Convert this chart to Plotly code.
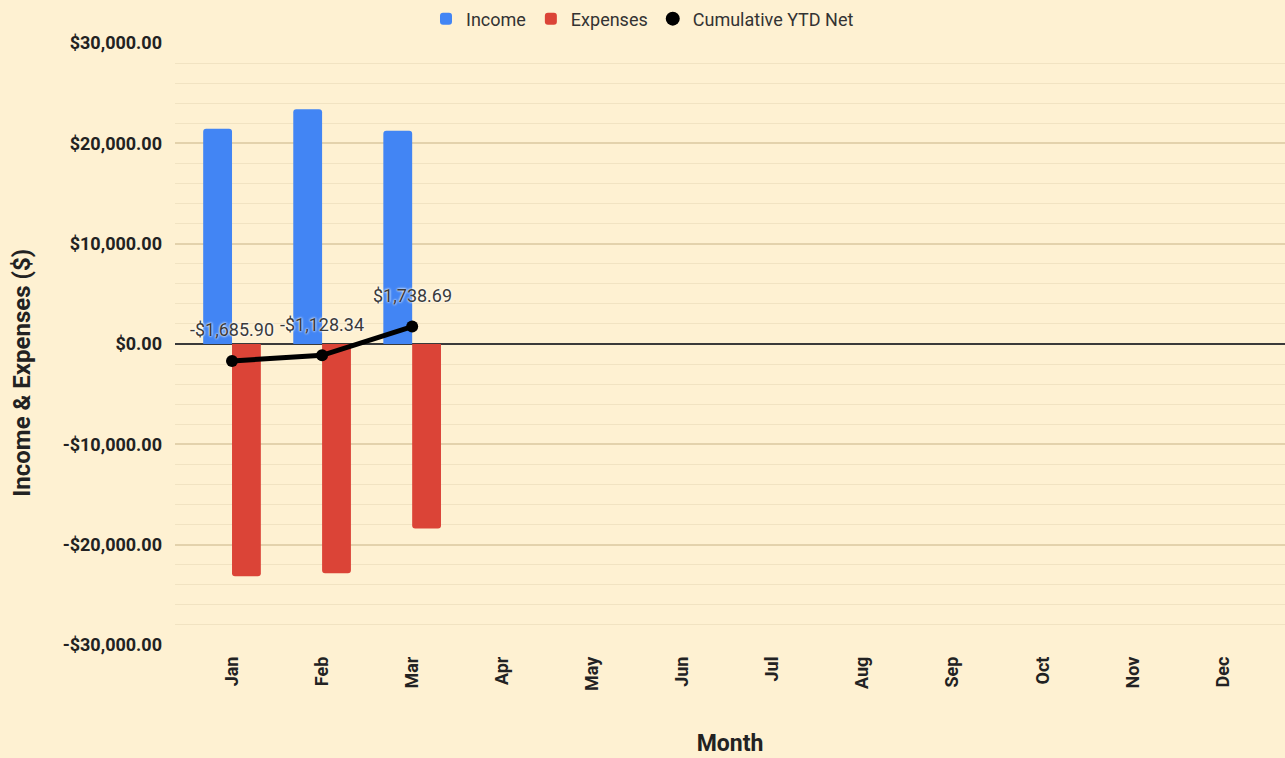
import plotly.graph_objects as go

months = ["Jan", "Feb", "Mar", "Apr", "May", "Jun", "Jul", "Aug", "Sep", "Oct", "Nov", "Dec"]
income = [21450.00, 23400.00, 21250.00]
expenses = [-23135.90, -22842.44, -18382.97]
cumulative_net = [-1685.90, -1128.34, 1738.69]

y_tickvals = [30000, 20000, 10000, 0, -10000, -20000, -30000]
y_ticktext = ["$30,000.00", "$20,000.00", "$10,000.00", "$0.00",
              "-$10,000.00", "-$20,000.00", "-$30,000.00"]


def fmt(v):
    return ("-" if v < 0 else "") + "${:,.2f}".format(abs(v))


BG = "#FEF1D2"
FONT = "Roboto"

fig = go.Figure()
fig.add_trace(go.Bar(x=months[:len(income)], y=income, name="Income",
                     marker=dict(color="#4285F4", cornerradius=3, line=dict(width=0))))
fig.add_trace(go.Bar(x=months[:len(expenses)], y=expenses, name="Expenses",
                     marker=dict(color="#DB4437", cornerradius=3, line=dict(width=0))))
fig.add_trace(go.Scatter(x=months[:len(cumulative_net)], y=cumulative_net, mode="lines+markers",
                         line=dict(color="#000000", width=5),
                         marker=dict(color="#000000", size=12),
                         showlegend=False, name="Cumulative YTD Net"))
fig.add_trace(go.Scatter(x=[None], y=[None], mode="markers", name="Cumulative YTD Net",
                         marker=dict(color="#000000", size=14)))

for m, v in zip(months, cumulative_net):
    fig.add_annotation(x=m, y=v, text=fmt(v), showarrow=False, yshift=31,
                       font=dict(family=FONT, size=18, color="#3a3a3a",
                                 shadow="0px 0px 3px #ffffff, 0px 0px 2px #ffffff"))

fig.add_annotation(xref="paper", yref="paper", x=-0.1375, y=0.453, xanchor="center", yanchor="middle",
                   text="Income & Expenses ($)", textangle=-90, showarrow=False,
                   font=dict(family=FONT, size=24, color="#222222", weight="bold"))

fig.update_layout(
    width=1285, height=758,
    paper_bgcolor=BG, plot_bgcolor=BG,
    margin=dict(l=175, r=0, t=43, b=113, autoexpand=False),
    barmode="group", bargap=0.36, bargroupgap=0.0,
    font=dict(family=FONT, color="#222222"),
    legend=dict(orientation="h", xref="container", yref="container", x=0.5, y=0.975,
                xanchor="center", yanchor="middle", bgcolor="rgba(0,0,0,0)",
                font=dict(family=FONT, size=18, color="#333333"), itemwidth=30,
                traceorder="normal"),
    showlegend=True,
)
fig.update_xaxes(
    categoryorder="array", categoryarray=months, range=[-0.633, 11.69],
    tickangle=-90, tickfont=dict(family=FONT, size=18, color="#222222", weight="bold"),
    showgrid=False, zeroline=False, showline=False, ticks="", ticklabelstandoff=7,
    title=dict(text="Month", font=dict(family=FONT, size=23, color="#222222", weight="bold"), standoff=44),
)
fig.update_yaxes(
    range=[-30000, 30000], tickmode="array", tickvals=y_tickvals, ticktext=y_ticktext,
    tickfont=dict(family=FONT, size=18, color="#222222", weight="bold"),
    showgrid=True, gridcolor="#E3D2AC", gridwidth=1.5,
    minor=dict(tickmode="linear", tick0=0, dtick=2000, showgrid=True, gridcolor="#F1E3C2", gridwidth=1, ticks=""),
    zeroline=True, zerolinecolor="#3a3a3a", zerolinewidth=1.5,
    showline=False, ticks="", ticklabelstandoff=12,
)

fig.write_html("out.html", config={"displayModeBar": False},
               post_script="document.body.style.margin='0';document.body.style.background='" + BG + "';")
